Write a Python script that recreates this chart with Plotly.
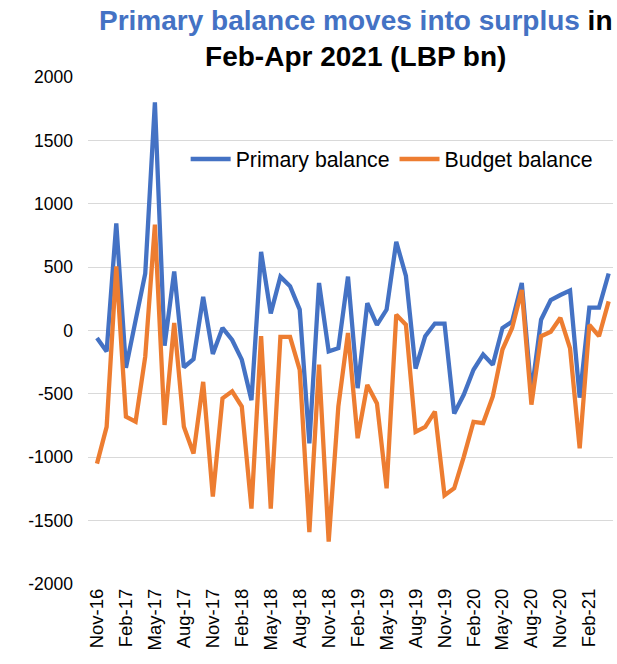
import plotly.graph_objects as go

# Monthly fiscal balances, Nov-2016 to Apr-2021 (LBP bn)
months = [
    "Nov-16", "Dec-16",
    "Jan-17", "Feb-17", "Mar-17", "Apr-17", "May-17", "Jun-17",
    "Jul-17", "Aug-17", "Sep-17", "Oct-17", "Nov-17", "Dec-17",
    "Jan-18", "Feb-18", "Mar-18", "Apr-18", "May-18", "Jun-18",
    "Jul-18", "Aug-18", "Sep-18", "Oct-18", "Nov-18", "Dec-18",
    "Jan-19", "Feb-19", "Mar-19", "Apr-19", "May-19", "Jun-19",
    "Jul-19", "Aug-19", "Sep-19", "Oct-19", "Nov-19", "Dec-19",
    "Jan-20", "Feb-20", "Mar-20", "Apr-20", "May-20", "Jun-20",
    "Jul-20", "Aug-20", "Sep-20", "Oct-20", "Nov-20", "Dec-20",
    "Jan-21", "Feb-21", "Mar-21", "Apr-21",
]

primary_balance = [
    -60, -165,
    845, -295, 80, 450, 1800, -120,
    465, -290, -225, 265, -185, 20,
    -75, -230, -550, 620, 135, 425,
    350, 165, -890, 375, -165, -140,
    425, -455, 215, 45, 165, 700,
    430, -300, -45, 55, 55, -655,
    -505, -310, -190, -270, 20, 70,
    375, -495, 85, 240, 280, 315,
    -530, 180, 180, 450,
]

budget_balance = [
    -1050, -760,
    505, -680, -720, -205, 835, -745,
    60, -760, -970, -405, -1310, -535,
    -480, -600, -1405, -45, -1405, -50,
    -50, -310, -1590, -270, -1665, -600,
    -20, -850, -430, -575, -1245, 125,
    45, -800, -760, -640, -1300, -1245,
    -995, -720, -730, -520, -150, 20,
    320, -585, -45, -10, 100, -140,
    -930, 45, -45, 230,
]

# Axis labels every third month
tick_labels = [
    "Nov-16", "Feb-17", "May-17", "Aug-17", "Nov-17", "Feb-18",
    "May-18", "Aug-18", "Nov-18", "Feb-19", "May-19", "Aug-19",
    "Nov-19", "Feb-20", "May-20", "Aug-20", "Nov-20", "Feb-21",
]

y_ticks = [-2000, -1500, -1000, -500, 0, 500, 1000, 1500, 2000]
y_tick_labels = [str(v) for v in y_ticks]

BLUE = "#4472C4"
ORANGE = "#ED7D31"
FONT = "Liberation Sans, Arial, sans-serif"

x_idx = list(range(len(months)))
tick_idx = [months.index(m) for m in tick_labels]

fig = go.Figure()
fig.add_trace(go.Scatter(
    x=x_idx, y=primary_balance, mode="lines", name="Primary balance",
    line=dict(color=BLUE, width=4.3), text=months,
    hovertemplate="%{text}: %{y}<extra>Primary balance</extra>",
))
fig.add_trace(go.Scatter(
    x=x_idx, y=budget_balance, mode="lines", name="Budget balance",
    line=dict(color=ORANGE, width=4.3), text=months,
    hovertemplate="%{text}: %{y}<extra>Budget balance</extra>",
))

# Two-line heading above the plot area
fig.add_annotation(
    text=(f"<b><span style='color:{BLUE}'>Primary balance moves into surplus</span>"
          " in<br>Feb-Apr 2021 (LBP bn)</b>"),
    xref="paper", yref="paper", x=(356 - 88) / 525, y=1 + (77 - 3) / 507,
    xanchor="center", yanchor="top", showarrow=False, align="center",
    font=dict(size=28, family=FONT, color="#000000"),
)

fig.update_layout(
    width=617, height=664,
    margin=dict(l=88, r=4, t=77, b=80),
    paper_bgcolor="white", plot_bgcolor="white",
    font=dict(family=FONT, color="#000000"),
    legend=dict(
        orientation="h", x=0.186, xanchor="left", y=0.838, yanchor="middle",
        bgcolor="rgba(0,0,0,0)", font=dict(size=21.3, family=FONT),
        itemwidth=40,
    ),
    showlegend=True,
)

fig.update_xaxes(
    range=[-0.93, 53.45], tickmode="array", tickvals=tick_idx,
    ticktext=tick_labels, tickangle=-90, showgrid=False, zeroline=False,
    showline=False, ticks="", tickfont=dict(size=18.5, family=FONT),
)
fig.update_yaxes(
    range=[-2000, 2000], tickmode="array", tickvals=y_ticks,
    ticktext=y_tick_labels,
    showgrid=True, gridcolor="#D9D9D9", gridwidth=1, zeroline=False,
    showline=False, ticks="", ticklabelstandoff=14,
    tickfont=dict(size=17.5, family=FONT),
)

fig.write_html("out.html")
